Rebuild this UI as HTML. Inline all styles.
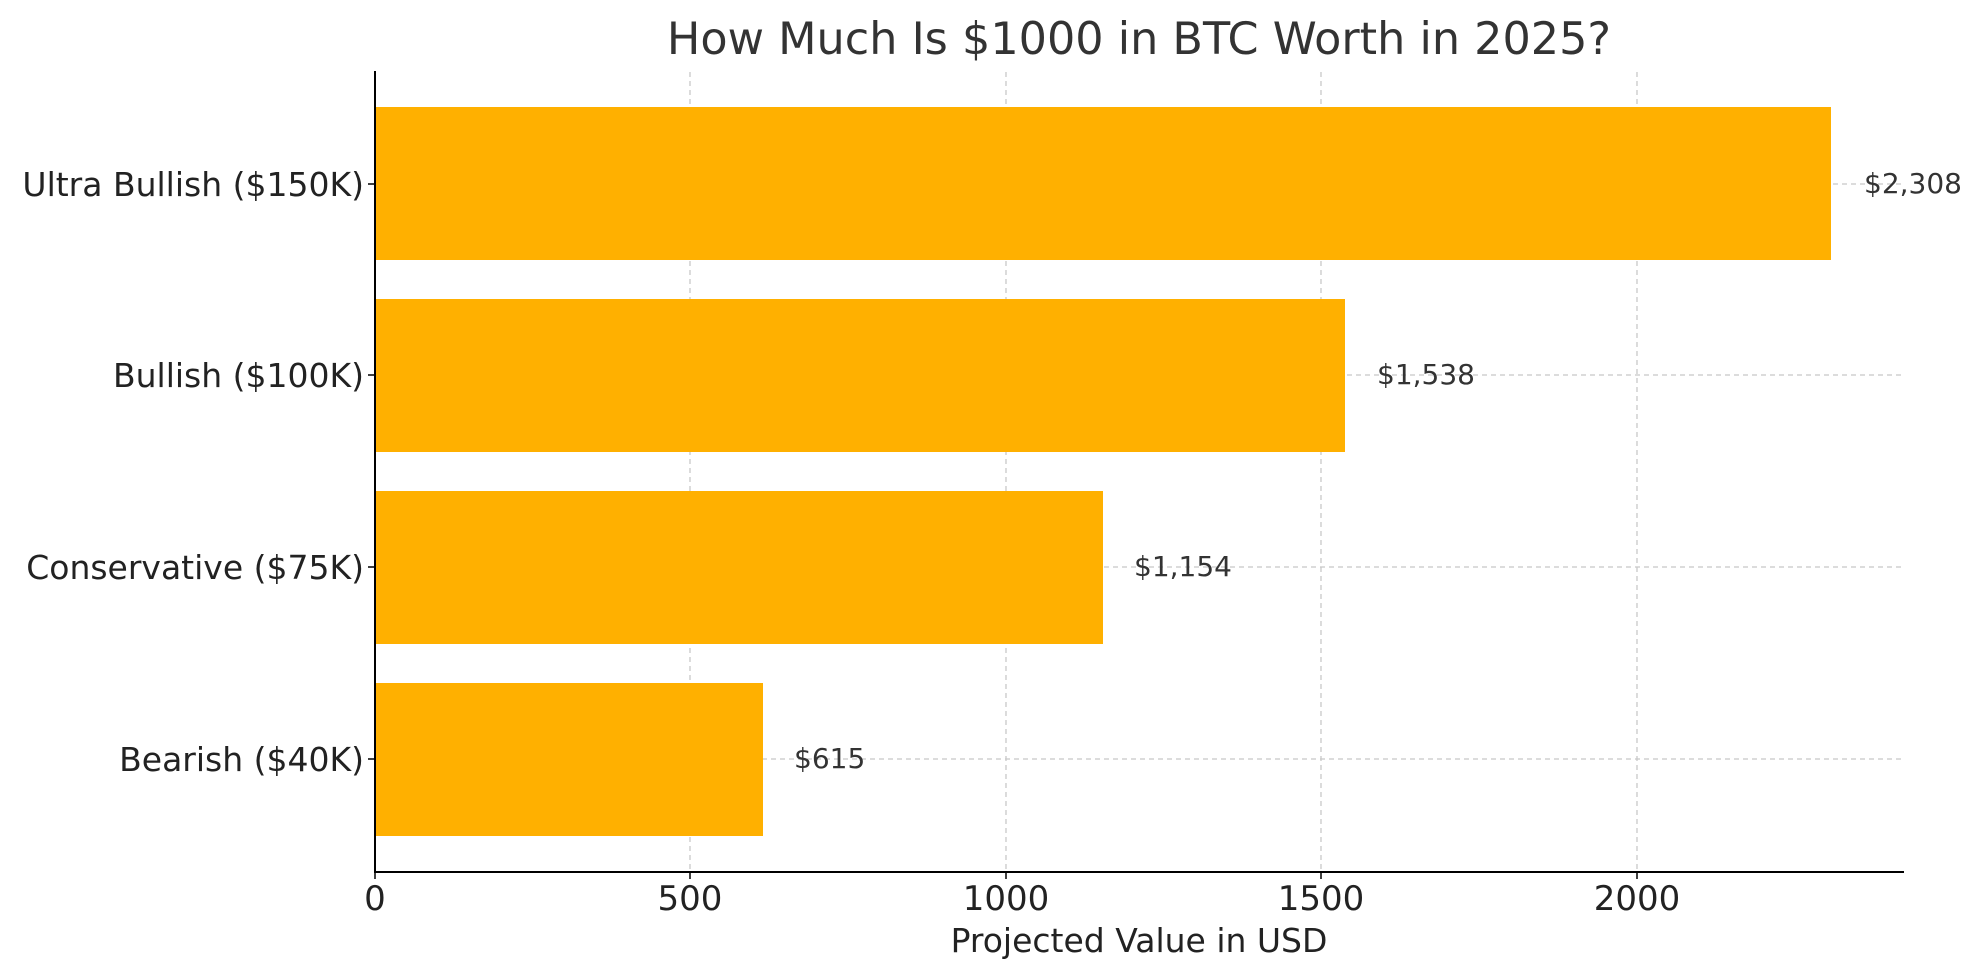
<!DOCTYPE html>
<html><head><meta charset="utf-8"><style>
html,body{margin:0;padding:0;background:#fff;}
svg{display:block;font-family:"DejaVu Sans","Liberation Sans",sans-serif;}
</style></head><body>
<svg width="1980" height="980" viewBox="0 0 1980 980">
<rect width="1980" height="980" fill="#fff"/>
<text x="1139" y="54" font-size="44.5" fill="#333" text-anchor="middle">How Much Is $1000 in BTC Worth in 2025?</text>
<g stroke="#c8c8c8" stroke-width="1.3" stroke-dasharray="5,4">
<line x1="690" y1="72" x2="690" y2="871"/>
<line x1="1006" y1="72" x2="1006" y2="871"/>
<line x1="1321" y1="72" x2="1321" y2="871"/>
<line x1="1637" y1="72" x2="1637" y2="871"/>
<line x1="375" y1="184" x2="1904" y2="184"/>
<line x1="375" y1="375" x2="1904" y2="375"/>
<line x1="375" y1="567" x2="1904" y2="567"/>
<line x1="375" y1="759" x2="1904" y2="759"/>
</g>
<g fill="#ffb000">
<rect x="375" y="107" width="1456" height="153"/>
<rect x="375" y="299" width="970" height="153"/>
<rect x="375" y="491" width="728" height="153"/>
<rect x="375" y="683" width="388" height="153"/>
</g>
<g stroke="#000" stroke-width="2">
<line x1="375" y1="71" x2="375" y2="872"/>
<line x1="374" y1="872" x2="1904" y2="872"/>
</g>
<g stroke="#000" stroke-width="1.5">
<line x1="375" y1="872" x2="375" y2="879"/><line x1="690" y1="872" x2="690" y2="879"/>
<line x1="1006" y1="872" x2="1006" y2="879"/><line x1="1321" y1="872" x2="1321" y2="879"/>
<line x1="1637" y1="872" x2="1637" y2="879"/>
<line x1="368" y1="184" x2="375" y2="184"/><line x1="368" y1="375" x2="375" y2="375"/>
<line x1="368" y1="567" x2="375" y2="567"/><line x1="368" y1="759" x2="375" y2="759"/>
</g>
<g font-size="34" fill="#222" text-anchor="middle">
<text x="375" y="910">0</text><text x="690" y="910">500</text><text x="1006" y="910">1000</text>
<text x="1321" y="910">1500</text><text x="1637" y="910">2000</text>
</g>
<text x="1139" y="952" font-size="33" fill="#222" text-anchor="middle">Projected Value in USD</text>
<g font-size="33" fill="#222" text-anchor="end">
<text x="364" y="196">Ultra Bullish ($150K)</text>
<text x="364" y="387">Bullish ($100K)</text>
<text x="364" y="579">Conservative ($75K)</text>
<text x="364" y="771">Bearish ($40K)</text>
</g>
<g font-size="28" fill="#333">
<text x="1864" y="193">$2,308</text>
<text x="1377" y="384">$1,538</text>
<text x="1134" y="576">$1,154</text>
<text x="794" y="768">$615</text>
</g>
</svg>
</body></html>
